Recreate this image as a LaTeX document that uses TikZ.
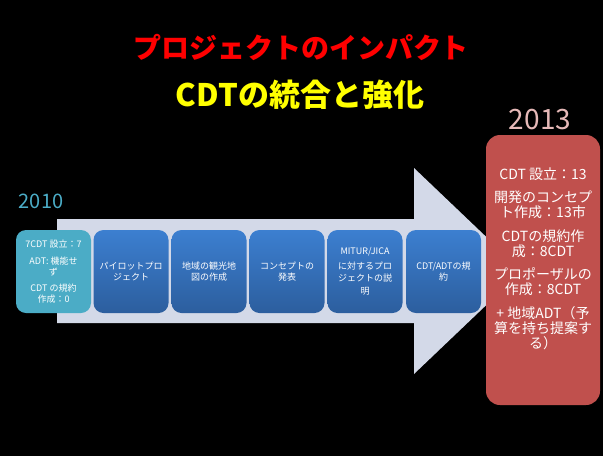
\documentclass[tikz,border=0pt]{standalone}
\usepackage{fontspec}
\setmainfont{Noto Sans CJK JP}
\definecolor{arrowfill}{RGB}{211,217,232}
\definecolor{tealbox}{RGB}{75,172,198}
\definecolor{bluetop}{RGB}{60,127,208}
\definecolor{bluebot}{RGB}{44,94,158}
\definecolor{redbox}{RGB}{192,80,77}
\definecolor{pinkyear}{RGB}{230,185,184}
\definecolor{tealyear}{RGB}{75,172,198}
\definecolor{titlered}{RGB}{255,0,0}
\definecolor{titleyellow}{RGB}{255,255,0}
\begin{document}
\begin{tikzpicture}[x=1pt,y=-1pt,
  stepbox/.style={rounded corners=10pt, minimum width=75pt, minimum height=83pt,
    inner sep=1pt, text=white, align=center, font=\fontsize{9}{11.5}\selectfont},
  bluebox/.style={stepbox, top color=bluetop, bottom color=bluebot, draw=none},
  firstbox/.style={stepbox, fill=tealbox, font=\fontsize{9}{10.5}\selectfont},
  yeartext/.style={inner sep=0pt, anchor=center}
]
\fill[black] (0,0) rectangle (603,456);
\useasboundingbox (0,0) rectangle (603,456);

% titles
\node[yeartext, text=titlered, font=\fontsize{28}{30}\selectfont\bfseries] (title1) at (301,47) {プロジェクトのインパクト};
\node[yeartext, text=titleyellow, font=\fontsize{31}{33}\selectfont\bfseries] (title2) at (300,95) {CDTの統合と強化};

% big arrow
\fill[arrowfill] (57,219) -- (414,219) -- (414,168) -- (522,271) -- (414,374) -- (414,323) -- (57,323) -- cycle;

% years
\node[yeartext, text=tealyear, font=\fontsize{20}{22}\selectfont] (y2010) at (41,201) {2010};
\node[yeartext, text=pinkyear, font=\fontsize{28}{30}\selectfont] (y2013) at (540,120) {2013};

% steps
\node[firstbox] (s1) at (53.5,271.5) {7CDT 設立：7\\[7pt] ADT: 機能せ\\ず\\[6pt] CDT の規約\\作成：0};
\node[bluebox] (s2) at (131,271.5) {パイロットプロ\\ジェクト};
\node[bluebox] (s3) at (209,271.5) {地域の観光地\\図の作成};
\node[bluebox] (s4) at (287,271.5) {コンセプトの\\発表};
\node[bluebox, font=\fontsize{9}{12.8}\selectfont] (s5) at (365,271.5) {MITUR/JICA\\[1.5pt] に対するプロ\\ジェクトの説\\明};
\node[bluebox] (s6) at (443.5,271.5) {CDT/ADTの規\\約};

% result box
\node[fill=redbox, rounded corners=14pt, minimum width=114pt, minimum height=270pt, inner sep=0pt] (res) at (543,270) {};
\node[text=white, align=center, inner sep=0pt, anchor=north, font=\fontsize{14}{15}\selectfont] (restext) at (543,167.5)
  {CDT 設立：13\\[8.5pt] 開発のコンセプ\\ト作成：13市\\[8.5pt] CDTの規約作\\成：8CDT\\[8.5pt] プロポーザルの\\作成：8CDT\\[8.5pt] + 地域ADT（予\\算を持ち提案す\\る）};
\end{tikzpicture}
\end{document}
